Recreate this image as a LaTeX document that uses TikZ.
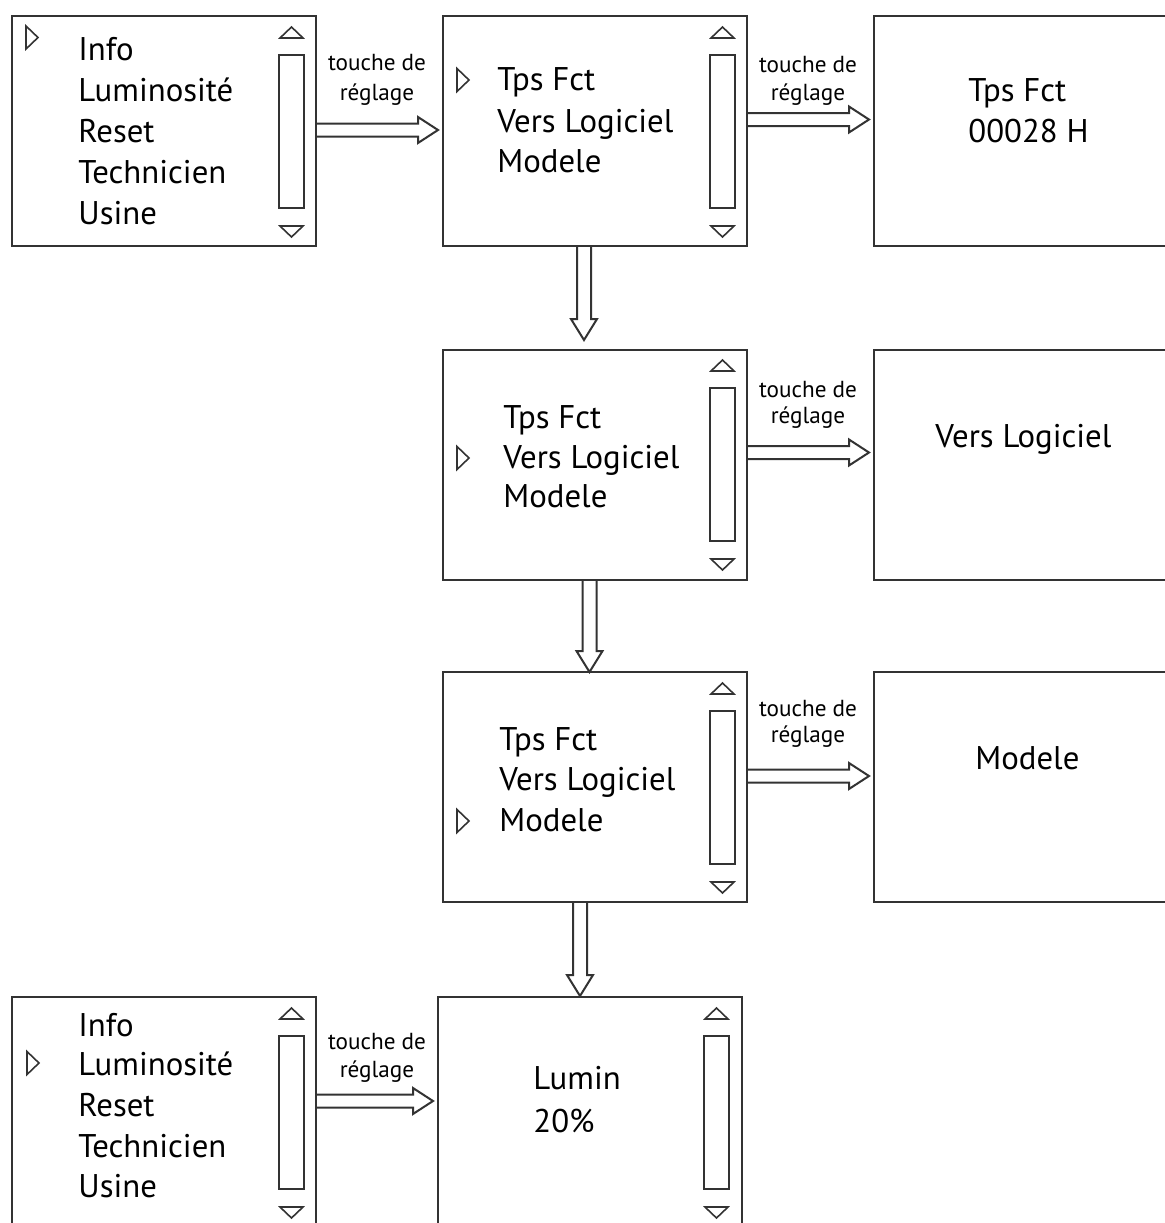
\documentclass[tikz,border=0pt]{standalone}
\usepackage{fontspec}
\setmainfont{PT Sans}
\usetikzlibrary{calc}

\newlength{\du}
\setlength{\du}{0.5pt}
\definecolor{dialinecolor}{rgb}{0.200000, 0.200000, 0.200000}

\tikzset{
  screen/.style={draw=dialinecolor, line width=1pt, fill=white, inner sep=0pt, outer sep=0pt,
    minimum width=304\du, minimum height=230\du},
  item/.style={font=\fontsize{16.4}{20}\selectfont, text=black, inner sep=0pt, anchor=base west},
  keylabel/.style={font=\fontsize{11.6}{14}\selectfont, text=black, inner sep=0pt, anchor=base},
  flow/.style={draw=dialinecolor, line width=1pt, line join=miter},
  scroll/.style={draw=dialinecolor, line width=0.8pt, line join=miter},
  cursor/.style={draw=dialinecolor, line width=0.8pt, line join=miter}
}

% scroll bar: #1 = left x of the bar, #2 = top y of the screen
\newcommand{\scrollbar}[2]{%
  \draw[scroll] (#1\du+1\du,#2\du+22\du)--(#1\du+12.5\du,#2\du+11\du)--(#1\du+24\du,#2\du+22\du)--cycle;
  \draw[scroll] (#1\du,#2\du+39\du) rectangle (#1\du+25\du,#2\du+192\du);
  \draw[scroll] (#1\du+1\du,#2\du+210\du)--(#1\du+24\du,#2\du+210\du)--(#1\du+12.5\du,#2\du+221\du)--cycle;
}
% menu cursor: #1 = left x, #2 = centre y
\newcommand{\menucursor}[2]{%
  \draw[cursor] (#1\du,#2\du-11.5\du)--(#1\du+12\du,#2\du)--(#1\du,#2\du+11.5\du)--cycle;
}
% hollow arrow to the right: screen #1 to screen #2 at height #3
\newcommand{\keyright}[3]{%
  \draw[flow] let \p1=(#1.east), \p2=(#2.west) in
    (\x1,#3\du-6.5\du)--(\x2-25\du,#3\du-6.5\du)--(\x2-25\du,#3\du-13\du)--(\x2-5\du,#3\du)
    --(\x2-25\du,#3\du+13\du)--(\x2-25\du,#3\du+6.5\du)--(\x1,#3\du+6.5\du);
}
% hollow arrow down: screen #1 to screen #2 at x #3, gap #4
\newcommand{\keydown}[4]{%
  \draw[flow] let \p1=(#1.south), \p2=(#2.north) in
    (#3\du-7\du,\y1)--(#3\du-7\du,\y2-#4\du-21\du)--(#3\du-13\du,\y2-#4\du-21\du)
    --(#3\du,\y2-#4\du)--(#3\du+13\du,\y2-#4\du-21\du)--(#3\du+7\du,\y2-#4\du-21\du)
    --(#3\du+7\du,\y1);
}

\begin{document}
\begin{tikzpicture}
\pgftransformxscale{1.000000}
\pgftransformyscale{-1.000000}
\useasboundingbox (0\du,0\du) rectangle (1165\du,1223\du);
\clip (0\du,0\du) rectangle (1165\du,1223\du);
\fill[white] (0\du,0\du) rectangle (1165\du,1223\du);

% screens
\node[screen] (mainmenu) at (164\du,131\du) {};
\node[screen] (infomenu) at (595\du,131\du) {};
\node[screen] (tpsfct) at (1026\du,131\du) {};
\node[screen] (infovers) at (595\du,465\du) {};
\node[screen] (versval) at (1026\du,465\du) {};
\node[screen] (infomodele) at (595\du,787\du) {};
\node[screen] (modeleval) at (1026\du,787\du) {};
\node[screen] (luminval) at (590\du,1112\du) {};
\node[screen] (lumimenu) at (164\du,1112\du) {};

% main menu
\node[item] (mainInfo) at (78\du,60\du) {Info};
\node[item] (mainLumi) at (78\du,101\du) {Luminosité};
\node[item] (mainReset) at (78\du,142\du) {Reset};
\node[item] (mainTech) at (78\du,183\du) {Technicien};
\node[item] (mainUsine) at (78\du,224\du) {Usine};
\menucursor{26}{37.5}
\scrollbar{279}{16}

% info menu, Tps Fct
\node[item] (infoTps) at (497\du,90\du) {Tps Fct};
\node[item] (infoVers) at (497\du,132\du) {Vers Logiciel};
\node[item] (infoModele) at (497\du,172\du) {Modele};
\menucursor{457}{80}
\scrollbar{710}{16}

\node[item] (tpsTitle) at (968\du,101\du) {Tps Fct};
\node[item] (tpsValue) at (968\du,142\du) {00028 H};

% info menu, Vers Logiciel
\node[item] (versTps) at (503\du,428\du) {Tps Fct};
\node[item] (versVers) at (503\du,468\du) {Vers Logiciel};
\node[item] (versModele) at (503\du,507\du) {Modele};
\menucursor{457}{458}
\scrollbar{710}{349}

\node[item] (versTitle) at (935\du,447\du) {Vers Logiciel};

% info menu, Modele
\node[item] (modTps) at (499\du,750\du) {Tps Fct};
\node[item] (modVers) at (499\du,790\du) {Vers Logiciel};
\node[item] (modModele) at (499\du,831\du) {Modele};
\menucursor{457}{821}
\scrollbar{710}{672}

\node[item] (modTitle) at (975\du,769\du) {Modele};

% luminosite
\node[item] (lumInfo) at (78\du,1036\du) {Info};
\node[item] (lumLumi) at (78\du,1075\du) {Luminosité};
\node[item] (lumReset) at (78\du,1116\du) {Reset};
\node[item] (lumTech) at (78\du,1157\du) {Technicien};
\node[item] (lumUsine) at (78\du,1197\du) {Usine};
\menucursor{27}{1063}
\scrollbar{279}{997}

\node[item] (luminTitle) at (533\du,1089\du) {Lumin};
\node[item] (luminValue) at (533\du,1132\du) {20\%};
\scrollbar{704}{997}

% key arrows
\keyright{mainmenu}{infomenu}{130}
\keyright{infomenu}{tpsfct}{119.5}
\keyright{infovers}{versval}{452.5}
\keyright{infomodele}{modeleval}{776}
\keyright{lumimenu}{luminval}{1101}
\keydown{infomenu}{infovers}{584}{10}
\keydown{infovers}{infomodele}{589.5}{0}
\keydown{infomodele}{luminval}{580}{1}

% key labels
\node[keylabel] (keyA1) at (377\du,70\du) {touche de};
\node[keylabel] (keyA2) at (377\du,100\du) {réglage};
\node[keylabel] (keyB1) at (808\du,72\du) {touche de};
\node[keylabel] (keyB2) at (808\du,100\du) {réglage};
\node[keylabel] (keyC1) at (808\du,397\du) {touche de};
\node[keylabel] (keyC2) at (808\du,423\du) {réglage};
\node[keylabel] (keyD1) at (808\du,716\du) {touche de};
\node[keylabel] (keyD2) at (808\du,742\du) {réglage};
\node[keylabel] (keyE1) at (377\du,1049\du) {touche de};
\node[keylabel] (keyE2) at (377\du,1077\du) {réglage};
\end{tikzpicture}
\end{document}
